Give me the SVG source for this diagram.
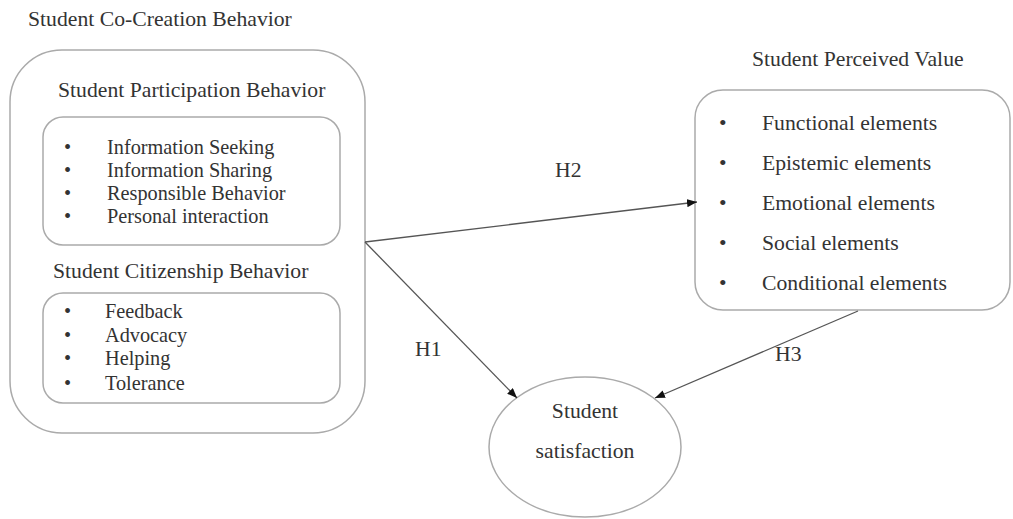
<svg xmlns="http://www.w3.org/2000/svg" width="1013" height="519" viewBox="0 0 1013 519">
<style>
text{font-family:"Liberation Serif","Times New Roman",serif;fill:#333}
.t{font-size:21.7px}
.i{font-size:20.3px}
.r{font-size:21.7px}
.box{fill:#fff;stroke:#aaa;stroke-width:1.5}
.edge{stroke:#555;stroke-width:1.3;fill:none}
</style>
<defs>
<marker id="ah" viewBox="0 0 10 8" refX="10" refY="4" markerWidth="10" markerHeight="8" markerUnits="userSpaceOnUse" orient="auto">
<path d="M0,0 L10,4 L0,8 Z" fill="#111"/>
</marker>
</defs>
<rect width="1013" height="519" fill="#fff"/>
<g id="cocreation">
<text class="t" x="28" y="26">Student Co-Creation Behavior</text>
<rect class="box" x="10" y="50" width="355" height="383" rx="52" ry="52"/>
</g>
<g id="participation">
<text class="t" x="58" y="97">Student Participation Behavior</text>
<rect class="box" x="43" y="117" width="297" height="128" rx="20" ry="20"/>
<g class="i">
<text x="64" y="154">•</text><text x="107" y="154">Information Seeking</text>
<text x="64" y="177">•</text><text x="107" y="177">Information Sharing</text>
<text x="64" y="200">•</text><text x="107" y="200">Responsible Behavior</text>
<text x="64" y="223">•</text><text x="107" y="223">Personal interaction</text>
</g>
</g>
<g id="citizenship">
<text class="t" x="53" y="278">Student Citizenship Behavior</text>
<rect class="box" x="43" y="293" width="297" height="110" rx="20" ry="20"/>
<g class="i">
<text x="64" y="318">•</text><text x="105" y="318">Feedback</text>
<text x="64" y="342">•</text><text x="105" y="342">Advocacy</text>
<text x="64" y="365">•</text><text x="105" y="365">Helping</text>
<text x="64" y="390">•</text><text x="105" y="390">Tolerance</text>
</g>
</g>
<g id="perceived">
<text class="t" x="752" y="66">Student Perceived Value</text>
<rect class="box" x="695" y="90" width="315" height="220" rx="28" ry="28"/>
<g class="r">
<text x="719" y="130">•</text><text x="762" y="130">Functional elements</text>
<text x="719" y="170">•</text><text x="762" y="170">Epistemic elements</text>
<text x="719" y="210">•</text><text x="762" y="210">Emotional elements</text>
<text x="719" y="250">•</text><text x="762" y="250">Social elements</text>
<text x="719" y="290">•</text><text x="762" y="290">Conditional elements</text>
</g>
</g>
<g id="satisfaction">
<ellipse class="box" cx="585" cy="447" rx="96" ry="70"/>
<text class="t" x="585" y="418" text-anchor="middle">Student</text>
<text class="t" x="585" y="458" text-anchor="middle">satisfaction</text>
</g>
<g id="connectors">
<line class="edge" x1="365" y1="242" x2="697" y2="202" marker-end="url(#ah)"/>
<line class="edge" x1="365" y1="242" x2="517" y2="398" marker-end="url(#ah)"/>
<line class="edge" x1="858" y1="311" x2="655" y2="398" marker-end="url(#ah)"/>
<text class="t" x="555" y="177">H2</text>
<text class="t" x="415" y="356">H1</text>
<text class="t" x="775" y="361">H3</text>
</g>
</svg>
